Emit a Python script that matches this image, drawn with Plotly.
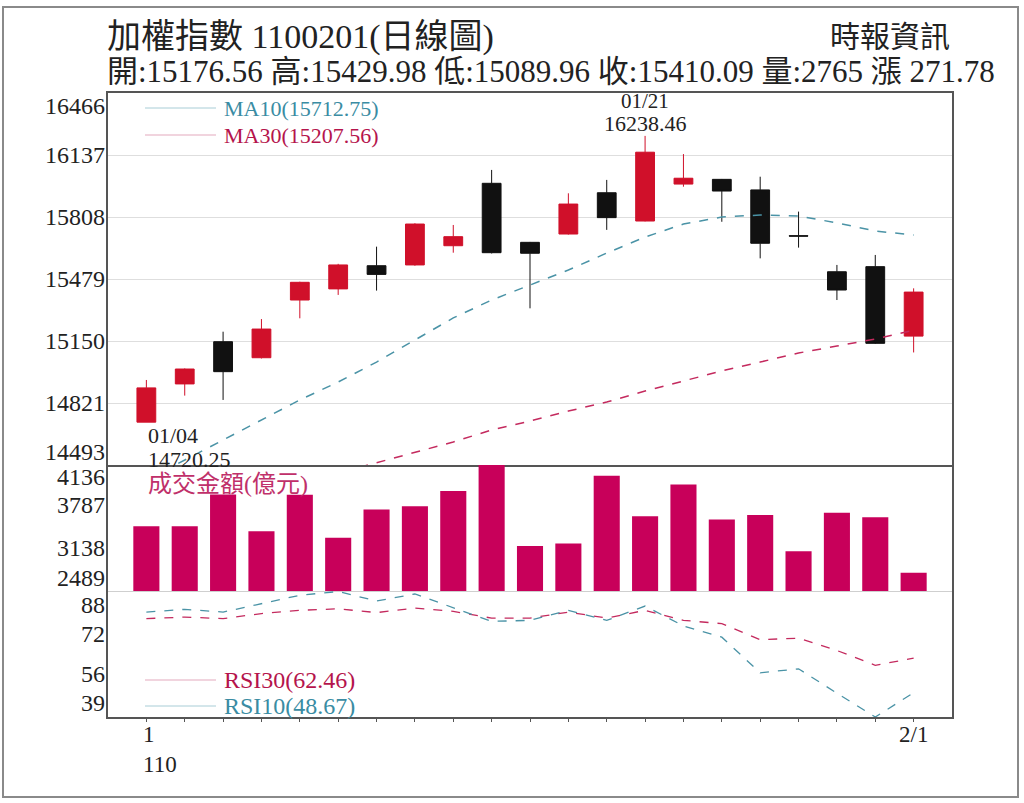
import plotly.graph_objects as go
from plotly.subplots import make_subplots

#%% Data (TAIEX daily, 110/01/04 - 110/02/01)

days = list(range(21))

opens = [14720.25, 14923, 15147, 15062, 15368, 15427, 15550, 15554, 15656, 15987,
         15674, 15718, 15937, 15787, 15983, 16008, 15952, 15709, 15518, 15545, 15176.56]
highs = [14944, 15005, 15200, 15267, 15465, 15560, 15651, 15775, 15766, 16058,
         15676, 15934, 16005, 16238.46, 16142, 16010, 16022, 15837, 15554, 15607, 15429.98]
lows = [14720.25, 14861, 14838, 15058, 15271, 15395, 15418, 15550, 15619, 15615,
        15324, 15715, 15740, 15785, 15969, 15783, 15589, 15646, 15368, 15135, 15089.96]
closes = [14902, 15002, 14988, 15214, 15462, 15554, 15504, 15771, 15704, 15619,
          15616, 15877, 15805, 16152, 16014, 15946, 15669, 15707, 15421, 15138.31, 15410.09]

ma10 = [14413, 14520, 14626, 14732, 14838, 14933, 15039, 15156, 15273, 15368,
        15448, 15527, 15617, 15702, 15771, 15808, 15819, 15814, 15777, 15734, 15712.75]
ma30 = [14290, 14320, 14350, 14380, 14410, 14450, 14504, 14557, 14615, 14679,
        14726, 14779, 14827, 14885, 14939, 14992, 15039, 15087, 15124, 15161, 15207.56]

# turnover in 100 million NTD
turnover = [3472, 3470, 3954, 3396, 3950, 3295, 3726, 3776, 4004, 4420,
            3173, 3209, 4237, 3624, 4106, 3574, 3640, 3092, 3675, 3609, 2765]

rsi10 = [80.8, 81.9, 80.8, 84.0, 87.5, 89.0, 85.2, 88.0, 82.7, 77.1,
         77.5, 81.5, 77.5, 83.2, 75.3, 70.8, 56.6, 58.2, 48.5, 39.0, 48.67]
rsi30 = [78.2, 78.8, 78.2, 80.2, 81.5, 82.1, 80.6, 82.4, 81.1, 78.4,
         78.4, 80.8, 78.4, 81.5, 77.5, 76.2, 69.8, 70.4, 65.5, 59.6, 62.46]

price_ticks = [16466, 16137, 15808, 15479, 15150, 14821, 14493]
vol_ticks = [4136, 3787, 3138, 2489]
rsi_ticks = [88, 72, 56, 39]
x_labels = {0: "1<br>110", 20: "2/1"}

price_range = [14493, 16466]
vol_range = [2489, 4400]
rsi_range = [39, 89.2]

#%% Styles

SERIF = "Liberation Serif, Noto Sans CJK TC, serif"
RED = "#d0102a"
BLACK = "#111111"
BAR = "#c8005a"
TEAL = "#4a93a6"
CRIMSON = "#c42a5e"

# plot area in pixels
L, T, W, H = 108, 93, 844, 624
row_px = [372, 126, 126]


def px(x):
    return (x - L) / W


def py(y):
    return (T + H - y) / H


#%% Figure

fig = make_subplots(rows=3, cols=1, shared_xaxes=True, vertical_spacing=0,
                    row_heights=row_px)

fig.add_trace(go.Candlestick(
    x=days, open=opens, high=highs, low=lows, close=closes,
    increasing=dict(line=dict(color=RED, width=1), fillcolor=RED),
    decreasing=dict(line=dict(color=BLACK, width=1), fillcolor=BLACK),
    whiskerwidth=0, showlegend=False, hoverinfo="skip"), row=1, col=1)

fig.add_trace(go.Scatter(x=days, y=ma10, mode="lines",
                         line=dict(color=TEAL, width=1.5, dash="dash"),
                         showlegend=False), row=1, col=1)
fig.add_trace(go.Scatter(x=days, y=ma30, mode="lines",
                         line=dict(color=CRIMSON, width=1.5, dash="dash"),
                         showlegend=False), row=1, col=1)

fig.add_trace(go.Bar(x=days, y=turnover, marker=dict(color=BAR, line=dict(width=0)),
                     width=0.68, base=0, showlegend=False), row=2, col=1)

fig.add_trace(go.Scatter(x=days, y=rsi30, mode="lines",
                         line=dict(color=CRIMSON, width=1.3, dash="dash"),
                         showlegend=False), row=3, col=1)
fig.add_trace(go.Scatter(x=days, y=rsi10, mode="lines",
                         line=dict(color=TEAL, width=1.3, dash="dash"),
                         showlegend=False), row=3, col=1)

# axes
for r in (1, 2, 3):
    fig.update_xaxes(range=[-1, 21], showgrid=False, zeroline=False,
                     showticklabels=False, row=r, col=1)
fig.update_xaxes(showline=True, linecolor="#555", linewidth=1.5, mirror=True, row=1, col=1)
fig.update_xaxes(showline=True, linecolor="#cfcfcf", linewidth=1, row=2, col=1)
fig.update_xaxes(showline=True, linecolor="#555", linewidth=1.5, ticks="outside",
                 tickvals=days, ticklen=3, tickcolor="#555", row=3, col=1)
fig.update_layout(xaxis_rangeslider_visible=False)

fig.update_yaxes(range=price_range, tickvals=price_ticks, showticklabels=False,
                 showgrid=True, gridcolor="#dedede", gridwidth=1, zeroline=False,
                 showline=True, linecolor="#555", linewidth=1.5, mirror=True,
                 row=1, col=1)
fig.update_yaxes(range=vol_range, tickvals=vol_ticks, showticklabels=False,
                 showgrid=False, zeroline=False,
                 showline=True, linecolor="#555", linewidth=1.5, mirror=True,
                 row=2, col=1)
fig.update_yaxes(range=rsi_range, tickvals=rsi_ticks, showticklabels=False,
                 showgrid=False, zeroline=False,
                 showline=True, linecolor="#555", linewidth=1.5, mirror=True,
                 row=3, col=1)

annotations = []


def add_text(text, x, y, size, color="#222", xanchor="left", xref="paper", yref="paper",
             yanchor="middle", xshift=0, yshift=0, align="left"):
    annotations.append(dict(text=text, x=x, y=y, xref=xref, yref=yref,
                            xanchor=xanchor, yanchor=yanchor, showarrow=False,
                            xshift=xshift, yshift=yshift, align=align,
                            font=dict(family=SERIF, size=size, color=color)))


# y tick labels: kept inside the panel and pushed apart like the original
def add_ylabels(ticks, yref, rng, h, inset=13, gap=28):
    # pixel distance of each label from the panel top
    pos = [(rng[1] - v) / (rng[1] - rng[0]) * h for v in ticks]
    want = [min(max(p, inset), h - inset) for p in pos]
    for i in range(len(want) - 2, -1, -1):
        if want[i + 1] - want[i] < gap:
            want[i] = want[i + 1] - gap
    for v, p, w in zip(ticks, pos, want):
        add_text(str(v), 0, v, 24, xanchor="right", yref=yref, xshift=-1, yshift=p - w)


add_ylabels(price_ticks, "y", price_range, row_px[0])
add_ylabels(vol_ticks, "y2", vol_range, row_px[1])
add_ylabels(rsi_ticks, "y3", rsi_range, row_px[2], inset=14)

# x labels
add_text(x_labels[0], 0, py(749), 23, xref="x3", xshift=-5, align="left")
add_text(x_labels[20], 20, py(735), 23, xanchor="center", xref="x3")

# high / low marks
add_text("16238.46", 13, highs[13], 22, xanchor="center", xref="x", yref="y", yshift=12)
add_text("01/21", 13, highs[13], 21, xanchor="center", xref="x", yref="y", yshift=35)
add_text("01/04", 0, lows[0], 22, xref="x", yref="y", yshift=-13)
add_text("14720.25", 0, lows[0], 22, xref="x", yref="y", yshift=-37)

# titles
add_text("加權指數 1100201(日線圖)", px(105), py(37), 34)
add_text("時報資訊", px(952), py(36), 30, xanchor="right")
add_text("開:15176.56 高:15429.98 低:15089.96 收:15410.09 量:2765 漲 271.78",
         px(105), py(72), 31)

# in-chart legends
add_text("MA10(15712.75)", px(222), py(108), 22, color="#3a8ca3")
add_text("MA30(15207.56)", px(222), py(135), 22, color="#b5144c")
add_text("成交金額(億元)", px(146), py(484), 24, color="#c0306a")
add_text("RSI30(62.46)", px(222), py(680), 24, color="#b5144c")
add_text("RSI10(48.67)", px(222), py(706), 24, color="#3a8ca3")

shapes = [
    dict(type="rect", xref="paper", yref="paper", x0=px(3), x1=px(1018),
         y0=py(797), y1=py(7), line=dict(color="#8a8a8a", width=2)),
]
for y, c in [(108, "#a8cdd6"), (135, "#e3a9bd"), (680, "#e3a9bd"), (706, "#a8cdd6")]:
    shapes.append(dict(type="line", xref="paper", yref="paper", x0=px(145), x1=px(216),
                       y0=py(y), y1=py(y), line=dict(color=c, width=1)))

fig.update_layout(
    width=1024, height=803,
    margin=dict(l=L, r=1024 - L - W, t=T, b=803 - T - H),
    paper_bgcolor="white", plot_bgcolor="white",
    annotations=annotations, shapes=shapes,
    showlegend=False, bargap=0.3,
)

# drop the page's default body margin so the figure sits at the window corner
fig.write_html("out.html", config={"displayModeBar": False},
               post_script="document.body.style.margin='0px';")
